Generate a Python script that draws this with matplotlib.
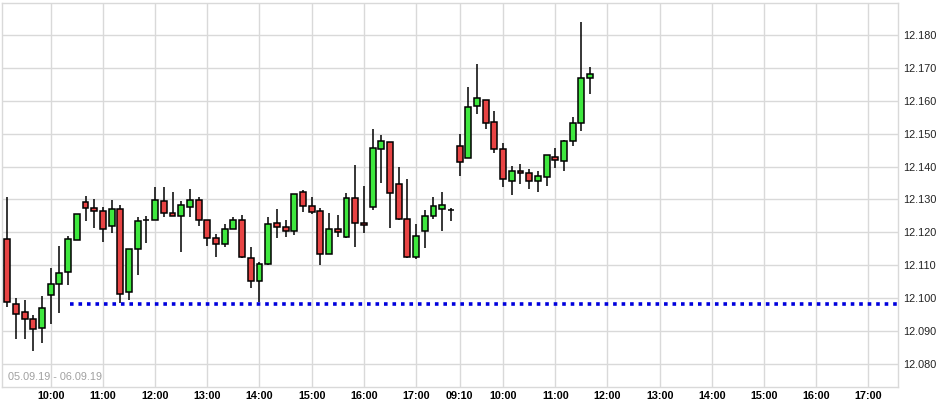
import numpy as np
import matplotlib
matplotlib.use("Agg")
import matplotlib.pyplot as plt

# 10-minute candles, 05.09.19 09:10 ... 06.09.19 11:40 (category slots, no overnight gap)
opens = [12.1179, 12.0981, 12.0957, 12.0936, 12.0909, 12.1009, 12.1042, 12.1079, 12.1176, 12.1291,
         12.1273, 12.1265, 12.1220, 12.1270, 12.1018, 12.1149, 12.1237, 12.1237, 12.1295, 12.1258,
         12.1249, 12.1276, 12.1297, 12.1237, 12.1182, 12.1164, 12.1209, 12.1237, 12.1121, 12.1051,
         12.1103, 12.1228, 12.1216, 12.1203, 12.1322, 12.1279, 12.1264, 12.1133, 12.1209, 12.1185,
         12.1304, 12.1228, 12.1278, 12.1453, 12.1474, 12.1346, 12.1240, 12.1124, 12.1203, 12.1249,
         12.1270, 12.1267, 12.1462, 12.1425, 12.1583, 12.1601, 12.1535, 12.1453, 12.1355, 12.1386,
         12.1380, 12.1355, 12.1367, 12.1428, 12.1416, 12.1477, 12.1532, 12.1668]
highs = [12.1307, 12.1000, 12.0995, 12.0949, 12.1007, 12.1093, 12.1157, 12.1189, 12.1255, 12.1311,
         12.1302, 12.1276, 12.1298, 12.1283, 12.1149, 12.1246, 12.1251, 12.1337, 12.1337, 12.1322,
         12.1296, 12.1331, 12.1307, 12.1237, 12.1194, 12.1225, 12.1246, 12.1252, 12.1154, 12.1109,
         12.1246, 12.1270, 12.1237, 12.1316, 12.1328, 12.1307, 12.1273, 12.1258, 12.1252, 12.1319,
         12.1404, 12.1340, 12.1514, 12.1496, 12.1474, 12.1398, 12.1361, 12.1225, 12.1267, 12.1307,
         12.1322, 12.1273, 12.1498, 12.1641, 12.1711, 12.1601, 12.1568, 12.1471, 12.1401, 12.1407,
         12.1392, 12.1385, 12.1434, 12.1456, 12.1480, 12.1550, 12.1839, 12.1702]
lows = [12.0972, 12.0877, 12.0877, 12.0840, 12.0865, 12.0922, 12.0954, 12.1041, 12.1176, 12.1236,
        12.1214, 12.1172, 12.1199, 12.0984, 12.0995, 12.1071, 12.1169, 12.1237, 12.1246, 12.1249,
        12.1141, 12.1246, 12.1218, 12.1157, 12.1126, 12.1155, 12.1209, 12.1121, 12.1030, 12.0989,
        12.1100, 12.1182, 12.1185, 12.1191, 12.1261, 12.1255, 12.1100, 12.1133, 12.1185, 12.1182,
        12.1155, 12.1197, 12.1269, 12.1351, 12.1212, 12.1237, 12.1121, 12.1118, 12.1152, 12.1240,
        12.1203, 12.1234, 12.1372, 12.1425, 12.1559, 12.1513, 12.1440, 12.1339, 12.1312, 12.1346,
        12.1331, 12.1322, 12.1342, 12.1395, 12.1386, 12.1462, 12.1507, 12.1620]
closes = [12.0988, 12.0952, 12.0936, 12.0905, 12.0969, 12.1042, 12.1076, 12.1179, 12.1255, 12.1273,
          12.1264, 12.1209, 12.1270, 12.1012, 12.1149, 12.1234, 12.1237, 12.1297, 12.1258, 12.1249,
          12.1282, 12.1297, 12.1237, 12.1182, 12.1164, 12.1209, 12.1237, 12.1124, 12.1051, 12.1103,
          12.1225, 12.1216, 12.1203, 12.1316, 12.1279, 12.1261, 12.1133, 12.1209, 12.1200, 12.1304,
          12.1228, 12.1222, 12.1456, 12.1477, 12.1319, 12.1240, 12.1124, 12.1188, 12.1249, 12.1279,
          12.1282, 12.1267, 12.1413, 12.1580, 12.1608, 12.1532, 12.1453, 12.1361, 12.1386, 12.1380,
          12.1355, 12.1371, 12.1434, 12.1419, 12.1477, 12.1532, 12.1668, 12.1681]

tick_slots = [5, 11, 17, 23, 29, 35, 41, 47, 52, 57, 63, 69, 75, 81, 87, 93, 99]
tick_labels = ["10:00", "11:00", "12:00", "13:00", "14:00", "15:00", "16:00", "17:00", "09:10",
               "10:00", "11:00", "12:00", "13:00", "14:00", "15:00", "16:00", "17:00"]
y_ticks = [12.08, 12.09, 12.10, 12.11, 12.12, 12.13, 12.14, 12.15, 12.16, 12.17, 12.18]

ref_level = 12.0982
ref_start = 7.2
date_range = "05.09.19 - 06.09.19"

plt.rcParams["font.family"] = ["Liberation Sans", "DejaVu Sans"]

fig = plt.figure(figsize=(9.45, 4.05), dpi=100)
W, H = 945, 405
left, right, top, bottom = 2, 898, 3, 387
ax = fig.add_axes([left / W, 1 - bottom / H, (right - left) / W, (bottom - top) / H])

o = np.array(opens)
h = np.array(highs)
l = np.array(lows)
c = np.array(closes)
x = np.arange(len(o))

up_col = "#3ee83e"
dn_col = "#e84444"

ax.vlines(x, l, h, color="black", linewidth=1.1, zorder=3)
body_lo = np.minimum(o, c)
body_h = np.abs(c - o)
colors = []
for oo, cc in zip(o, c):
    if abs(cc - oo) < 1e-5:
        colors.append("black")
    elif cc > oo:
        colors.append(up_col)
    else:
        colors.append(dn_col)
body_h = np.maximum(body_h, 0.00005)
ax.bar(x, body_h, bottom=body_lo, width=0.68, color=colors, edgecolor="black",
       linewidth=1.1, zorder=4)

# reference level
ax.hlines(ref_level, ref_start, 103, color="#0000dd", linewidth=2.6,
          linestyles=(0, (1, 1.35)), zorder=5)

ax.set_xlim(-0.6, 102.4)
ax.set_ylim(12.0730, 12.1897)

ax.set_xticks(tick_slots)
ax.set_xticklabels(tick_labels)
ax.set_yticks(y_ticks)
ax.set_yticklabels([f"{v:.3f}" for v in y_ticks])
ax.yaxis.tick_right()
ax.tick_params(axis="both", length=0, labelsize=7.8)
ax.tick_params(axis="y", pad=4, labelcolor="#222222")
ax.tick_params(axis="x", pad=3, labelcolor="black")
for lab in ax.get_xticklabels():
    lab.set_fontweight("bold")

ax.grid(True, color="#d9d9d9", linewidth=1.0)
ax.set_axisbelow(True)
for s in ax.spines.values():
    s.set_color("#d9d9d9")
    s.set_linewidth(1.0)

ax.text(0.007, 0.014, date_range, transform=ax.transAxes, fontsize=7.8,
        color="#a0a0a0", va="bottom", ha="left", zorder=6)

fig.savefig("out.png", dpi=100)
